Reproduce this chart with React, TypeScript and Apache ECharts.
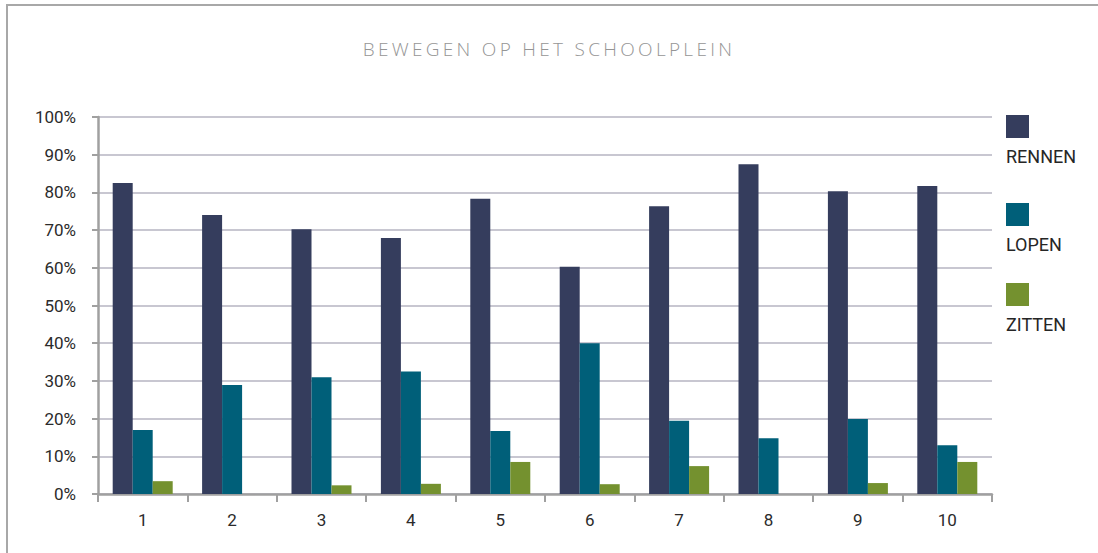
import React, { useEffect, useRef } from "react";
import * as echarts from "echarts";

const TITLE = "BEWEGEN OP HET SCHOOLPLEIN";
const categories = ["1", "2", "3", "4", "5", "6", "7", "8", "9", "10"];
const seriesNames = ["RENNEN", "LOPEN", "ZITTEN"];
const seriesColors = ["#353d5d", "#005f79", "#74912f"];
const rennen = [82.5, 74.0, 70.2, 67.9, 78.3, 60.3, 76.3, 87.5, 80.3, 81.7];
const lopen = [17.0, 28.9, 31.0, 32.5, 16.7, 40.0, 19.4, 14.8, 19.9, 12.9];
const zitten = [3.4, 0, 2.3, 2.7, 8.5, 2.6, 7.4, 0, 2.9, 8.5];
const yTicks = [0, 10, 20, 30, 40, 50, 60, 70, 80, 90, 100];

export default function App() {
  const ref = useRef<HTMLDivElement>(null);
  useEffect(() => {
    if (!ref.current) return;
    const chart = echarts.init(ref.current, undefined, { renderer: "svg" });
    const values = [rennen, lopen, zitten];
    const legendGraphics: any[] = [];
    const legendTops = [115, 203, 283];
    seriesNames.forEach((n, i) => {
      legendGraphics.push({
        type: "rect",
        shape: { x: 1006, y: legendTops[i], width: 23, height: 23 },
        style: { fill: seriesColors[i] },
      });
      legendGraphics.push({
        type: "text",
        x: 1006,
        y: legendTops[i] + 41,
        style: {
          text: n,
          fill: "#262626",
          fontSize: 18,
          fontFamily: "Roboto, 'Open Sans', sans-serif",
          verticalAlign: "middle",
          align: "left",
        },
      });
    });
    chart.setOption({
      animation: false,
      backgroundColor: "#ffffff",
      title: {
        text: TITLE,
        left: "center",
        top: 34,
        textStyle: {
          color: "#959595",
          fontSize: 19,
          fontWeight: 300,
          fontFamily: "'Open Sans', 'Noto Sans', sans-serif",
        },
      },
      grid: { left: 98, right: 106, top: 117, bottom: 59 },
      xAxis: {
        type: "category",
        data: categories,
        axisLine: { show: true, lineStyle: { color: "#a0a0a0", width: 2.5 } },
        axisTick: { show: true, length: 8, lineStyle: { color: "#a0a0a0", width: 2 } },
        axisLabel: {
          margin: 17,
          color: "#2b2b2b",
          fontSize: 17,
          fontFamily: "Roboto, 'Open Sans', sans-serif",
        },
      },
      yAxis: {
        type: "value",
        min: yTicks[0],
        max: yTicks[yTicks.length - 1],
        interval: 10,
        axisLine: { show: true, lineStyle: { color: "#a0a0a0", width: 2.5 } },
        axisTick: { show: true, length: 6, lineStyle: { color: "#a0a0a0", width: 2 } },
        splitLine: { show: true, lineStyle: { color: "#c8c7d1", width: 2 } },
        axisLabel: {
          margin: 22,
          color: "#2b2b2b",
          fontSize: 17,
          fontFamily: "Roboto, 'Open Sans', sans-serif",
          formatter: "{value}%",
        },
      },
      series: seriesNames.map((n, i) => ({
        name: n,
        type: "bar",
        data: values[i],
        barWidth: 20,
        barGap: "0%",
        itemStyle: { color: seriesColors[i] },
      })),
      graphic: [
        {
          type: "line",
          shape: { x1: 6, y1: 5, x2: 1098, y2: 5 },
          style: { stroke: "#a8a8a8", lineWidth: 2 },
        },
        {
          type: "line",
          shape: { x1: 7, y1: 4, x2: 7, y2: 553 },
          style: { stroke: "#a8a8a8", lineWidth: 2 },
        },
        ...legendGraphics,
      ],
    });
    const applySpacing = () => {
      const texts = ref.current?.querySelectorAll("text") || [];
      texts.forEach((t: any) => {
        if (t.textContent === TITLE) t.setAttribute("letter-spacing", "3.3px");
      });
    };
    applySpacing();
    chart.on("finished", applySpacing);
    return () => chart.dispose();
  }, []);
  return (
    <div
      ref={ref}
      style={{ position: "fixed", left: 0, top: 0, width: 1098, height: 553 }}
    />
  );
}
